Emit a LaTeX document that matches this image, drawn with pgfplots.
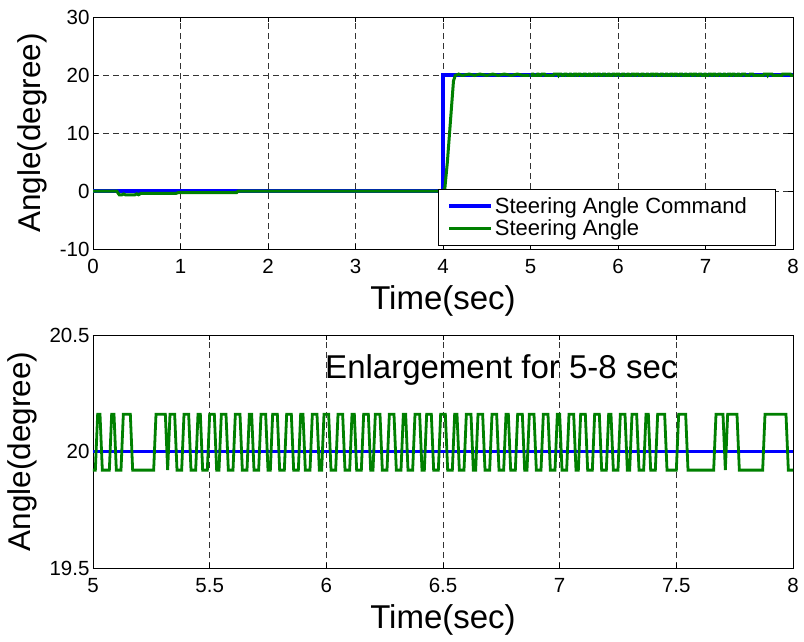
\documentclass[border=0pt]{standalone}
\usepackage{fontspec}
\setmainfont{Liberation Sans}
\usepackage{pgfplots}
\usepackage{pgfplotstable}
\pgfplotsset{compat=1.18}
\definecolor{mblue}{rgb}{0,0,1}
\definecolor{mgreen}{rgb}{0,0.5,0}

\pgfplotstableread{
t v
5.00 19.92
5.01 19.92
5.02 20.16
5.03 20.16
5.04 19.92
5.07 19.92
5.08 20.16
5.09 20.16
5.10 19.92
5.12 19.92
5.13 20.16
5.16 20.16
5.17 19.92
5.26 19.92
5.27 20.16
5.31 20.16
5.32 19.92
5.33 20.16
5.35 20.16
5.36 19.92
5.38 19.92
5.39 20.16
5.41 20.16
5.42 19.92
5.44 19.92
5.45 20.16
5.46 20.16
5.47 19.92
5.49 19.92
5.50 20.16
5.52 20.16
5.53 19.92
5.54 19.92
5.55 20.16
5.57 20.16
5.58 19.92
5.60 19.92
5.61 20.16
5.63 20.16
5.64 19.92
5.66 19.92
5.67 20.16
5.68 20.16
5.69 19.92
5.71 19.92
5.72 20.16
5.74 20.16
5.75 19.92
5.76 19.92
5.77 20.16
5.79 20.16
5.80 19.92
5.82 19.92
5.83 20.16
5.85 20.16
5.86 19.92
5.88 19.92
5.89 20.16
5.90 20.16
5.91 19.92
5.93 19.92
5.94 20.16
5.96 20.16
5.97 19.92
5.98 19.92
5.99 20.16
6.01 20.16
6.02 19.92
6.04 19.92
6.05 20.16
6.07 20.16
6.08 19.92
6.10 19.92
6.11 20.16
6.12 20.16
6.13 19.92
6.15 19.92
6.16 20.16
6.18 20.16
6.19 19.92
6.20 19.92
6.21 20.16
6.23 20.16
6.24 19.92
6.26 19.92
6.27 20.16
6.29 20.16
6.30 19.92
6.32 19.92
6.33 20.16
6.34 20.16
6.35 19.92
6.37 19.92
6.38 20.16
6.40 20.16
6.41 19.92
6.42 19.92
6.43 20.16
6.45 20.16
6.46 19.92
6.48 19.92
6.49 20.16
6.51 20.16
6.52 19.92
6.54 19.92
6.55 20.16
6.56 20.16
6.57 19.92
6.59 19.92
6.60 20.16
6.62 20.16
6.63 19.92
6.64 19.92
6.65 20.16
6.67 20.16
6.68 19.92
6.70 19.92
6.71 20.16
6.73 20.16
6.74 19.92
6.76 19.92
6.77 20.16
6.78 20.16
6.79 19.92
6.81 19.92
6.82 20.16
6.84 20.16
6.85 19.92
6.86 19.92
6.87 20.16
6.89 20.16
6.90 19.92
6.92 19.92
6.93 20.16
6.95 20.16
6.96 19.92
6.98 19.92
6.99 20.16
7.00 20.16
7.01 19.92
7.03 19.92
7.04 20.16
7.06 20.16
7.07 19.92
7.08 19.92
7.09 20.16
7.11 20.16
7.12 19.92
7.14 19.92
7.15 20.16
7.17 20.16
7.18 19.92
7.20 19.92
7.21 20.16
7.22 20.16
7.23 19.92
7.25 19.92
7.26 20.16
7.28 20.16
7.29 19.92
7.30 19.92
7.31 20.16
7.33 20.16
7.34 19.92
7.36 19.92
7.37 20.16
7.38 20.16
7.39 19.92
7.41 19.92
7.42 20.16
7.45 20.16
7.46 19.92
7.50 19.92
7.51 20.16
7.54 20.16
7.55 19.92
7.66 19.92
7.67 20.16
7.70 20.16
7.71 19.92
7.72 20.16
7.76 20.16
7.77 19.92
7.87 19.92
7.88 20.16
7.97 20.16
7.98 19.92
8.00 19.92
}\greenfine

\pgfplotsset{mystyle/.style={
  scale only axis, width=700pt, anchor=north west,
  xmajorgrids, ymajorgrids,
  grid style={black!80, line width=0.6pt, dash pattern=on 6pt off 4pt},
  axis line style={black, line width=0.8pt},
  tick style={black, line width=0.8pt},
  tick align=inside, major tick length=5pt,
  ticklabel style={font=\fontsize{20.5}{24}\selectfont},
  xticklabel style={yshift=-7pt},
  /pgf/number format/assume math mode=true,
  xlabel style={font=\fontsize{33}{38}\selectfont, yshift=-5pt},
  ylabel style={font=\fontsize{31.5}{36}\selectfont, yshift=6pt},
  xlabel={Time(sec)}, ylabel={Angle(degree)},
}}

\begin{document}
\begin{tikzpicture}
\path[use as bounding box] (0pt,0pt) rectangle (804pt,-641pt);
\begin{axis}[mystyle, at={(93pt,-17pt)}, height=232pt,
  xmin=0, xmax=8, ymin=-10, ymax=30,
  xtick={0,1,...,8}, ytick={-10,0,10,20,30},
  legend style={at={(0.976,0.015)}, anchor=south east, draw=black, line width=0.8pt,
    font=\fontsize{22}{24}\selectfont, row sep=1pt, inner xsep=9pt, inner ysep=6pt},
  legend cell align=left,
  legend image code/.code={\draw[#1] (0pt,0pt) -- (42pt,0pt);},
]
\addplot[mblue, line width=3.1pt] coordinates {(0,0)(4,0)(4,20)(8,20)};
\addlegendentry{Steering Angle Command\rule{18pt}{0pt}}
\addplot[mgreen, line width=3.0pt] coordinates {(0,0)(0.27,0)(0.30,-0.65)(0.33,-0.65)(0.35,-0.5)(0.37,-0.65)(0.48,-0.65)(0.50,-0.5)(0.52,-0.65)(0.55,-0.4)(0.95,-0.4)(0.97,-0.3)(1.64,-0.3)(1.66,0)(3.99,0)(4.02,0.3)(4.05,5)(4.09,13)(4.12,19)(4.14,19.92)(4.18,20.16)(4.22,19.92)(4.30,20.16)(4.36,19.92)(4.42,20.16)(4.50,19.92)(4.57,20.16)(4.63,19.92)(4.70,20.16)(4.78,19.92)(4.85,20.16)(4.92,19.92)(4.99,19.92)};
\addlegendentry{Steering Angle}
\addplot[mgreen, line width=3.0pt, forget plot] table[x=t, y=v] {\greenfine};
\end{axis}
\begin{axis}[mystyle, at={(93pt,-335pt)}, height=233pt,
  xmin=5, xmax=8, ymin=19.5, ymax=20.5,
  xtick={5,5.5,...,8}, ytick={19.5,20,20.5},
  yticklabel style={/pgf/number format/fixed, /pgf/number format/precision=1},
]
\addplot[mblue, line width=3.0pt] coordinates {(5,20)(8,20)};
\addplot[mgreen, line width=2.8pt] table[x=t, y=v] {\greenfine};
\node[font=\fontsize{33}{38}\selectfont] at (axis cs:6.75,20.35) {Enlargement for 5-8 sec};
\end{axis}
\end{tikzpicture}
\end{document}
